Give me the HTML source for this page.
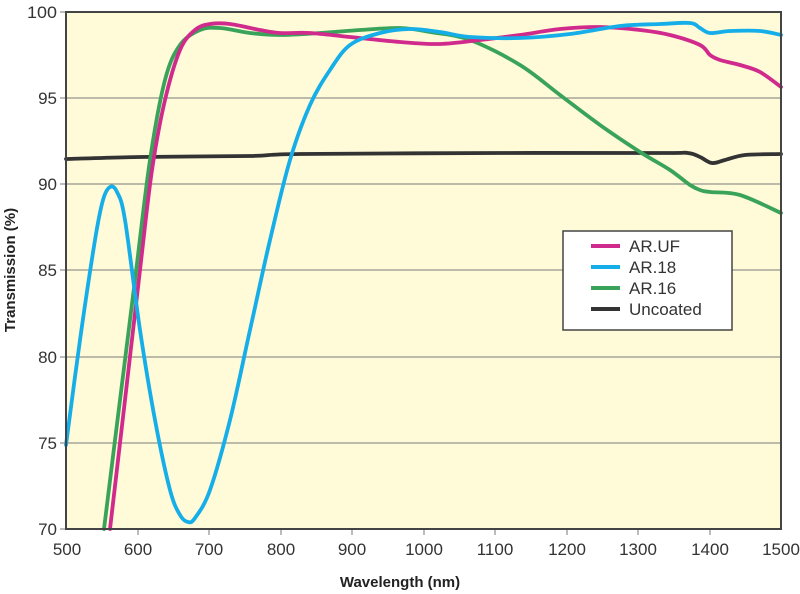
<!DOCTYPE html>
<html><head><meta charset="utf-8"><style>
body{margin:0;background:#fff}
svg{display:block;font-family:"Liberation Sans",Arial,sans-serif}
</style></head><body>
<svg width="800" height="594" viewBox="0 0 800 594">
<rect x="66" y="12" width="715" height="517" fill="#fffad8"/>
<g stroke="#7a7a7a" stroke-width="1">
<line x1="60" y1="98" x2="781" y2="98"/>
<line x1="60" y1="184" x2="781" y2="184"/>
<line x1="60" y1="270" x2="781" y2="270"/>
<line x1="60" y1="357" x2="781" y2="357"/>
<line x1="60" y1="443" x2="781" y2="443"/>
<line x1="60" y1="12" x2="66" y2="12"/>
<line x1="60" y1="529" x2="66" y2="529"/>
<line x1="138" y1="529" x2="138" y2="535"/>
<line x1="209" y1="529" x2="209" y2="535"/>
<line x1="281" y1="529" x2="281" y2="535"/>
<line x1="352" y1="529" x2="352" y2="535"/>
<line x1="424" y1="529" x2="424" y2="535"/>
<line x1="495" y1="529" x2="495" y2="535"/>
<line x1="567" y1="529" x2="567" y2="535"/>
<line x1="638" y1="529" x2="638" y2="535"/>
<line x1="710" y1="529" x2="710" y2="535"/>
</g>
<g fill="none" stroke-width="3.8" stroke-linejoin="round" stroke-linecap="round" id="curves">
<path stroke="#333" data-p="66,159 140,157 250,156 300,154 500,153 660,153 688,153 700,157 712,163 725,160 745,155 781,154"/>
<path stroke="#3aa35a" data-p="104,529 120,400 135,280 150,160 165,80 180,45 200,30 220,28 250,33 280,35 320,33 360,30 400,28 430,32 470,40 520,65 560,95 600,125 640,152 670,170 690,185 700,190 710,192 740,195 781,213"/>
<path stroke="#d02a8c" data-p="110,529 125,400 140,270 152,170 165,100 180,50 195,30 210,24 230,24 260,30 280,33 310,33 350,37 400,42 440,44 480,40 520,35 560,29 600,27 640,30 670,35 700,45 710,55 720,60 740,65 760,72 781,87"/>
<path stroke="#16aee8" data-p="66,445 80,340 95,240 103,200 110,187 117,192 125,220 140,330 155,420 170,490 180,515 188,522 195,518 210,490 230,420 250,330 270,240 290,160 310,105 330,70 350,45 380,33 410,29 440,32 470,37 520,38 570,34 620,26 660,24 690,23 700,28 710,33 730,31 760,31 781,35"/>
</g>
<rect x="66" y="12" width="715" height="517" fill="none" stroke="#444" stroke-width="2"/>
<g fill="#333" font-size="17" text-anchor="end">
<text x="57" y="18" textLength="30" lengthAdjust="spacingAndGlyphs">100</text><text x="57" y="104">95</text><text x="57" y="190">90</text>
<text x="57" y="276">85</text><text x="57" y="363">80</text><text x="57" y="449">75</text><text x="57" y="535">70</text>
</g>
<g fill="#333" font-size="17" text-anchor="middle">
<text x="67" y="555">500</text><text x="138" y="555">600</text><text x="209" y="555">700</text>
<text x="281" y="555">800</text><text x="352" y="555">900</text><text x="424" y="555">1000</text>
<text x="495" y="555">1100</text><text x="567" y="555">1200</text><text x="638" y="555">1300</text>
<text x="710" y="555">1400</text><text x="781" y="555">1500</text>
</g>
<text x="400" y="587" font-size="15" font-weight="bold" fill="#222" text-anchor="middle">Wavelength (nm)</text>
<text transform="translate(15,270) rotate(-90)" font-size="15" font-weight="bold" fill="#222" text-anchor="middle">Transmission (%)</text>
<rect x="563" y="231" width="169" height="99" fill="#fff" stroke="#444" stroke-width="1.5"/>
<g stroke-width="4">
<line x1="591" y1="246" x2="620" y2="246" stroke="#d02a8c"/>
<line x1="591" y1="267" x2="620" y2="267" stroke="#16aee8"/>
<line x1="591" y1="288" x2="620" y2="288" stroke="#3aa35a"/>
<line x1="591" y1="309" x2="620" y2="309" stroke="#333"/>
</g>
<g font-size="17" fill="#333">
<text x="629" y="252">AR.UF</text><text x="629" y="273">AR.18</text>
<text x="629" y="294">AR.16</text><text x="629" y="315">Uncoated</text>
</g>
</svg>
<script>
document.querySelectorAll('#curves path').forEach(function(el){
var p=el.getAttribute('data-p').trim().split(/\s+/).map(function(s){return s.split(',').map(Number);});
var d='M'+p[0][0]+','+p[0][1];
for(var i=0;i<p.length-1;i++){
var p0=p[i-1]||p[i],p1=p[i],p2=p[i+1],p3=p[i+2]||p2;
var c1x=p1[0]+(p2[0]-p0[0])/6,c1y=p1[1]+(p2[1]-p0[1])/6;
var c2x=p2[0]-(p3[0]-p1[0])/6,c2y=p2[1]-(p3[1]-p1[1])/6;
d+=' C'+c1x.toFixed(1)+','+c1y.toFixed(1)+' '+c2x.toFixed(1)+','+c2y.toFixed(1)+' '+p2[0]+','+p2[1];
}
el.setAttribute('d',d);el.removeAttribute('data-p');
});
</script>
</body></html>
